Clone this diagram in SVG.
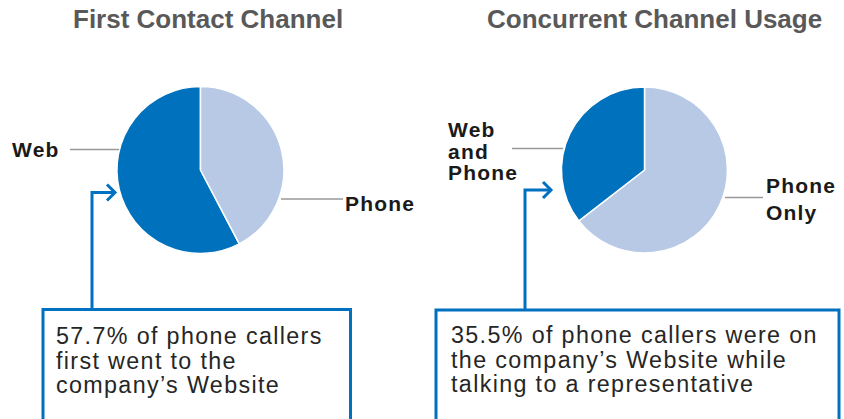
<svg xmlns="http://www.w3.org/2000/svg" width="844" height="419" viewBox="0 0 844 419">
<style>
.title{font-family:"Liberation Sans",Arial,sans-serif;font-weight:bold;font-size:26px;fill:#595959}
.lbl{font-family:"Liberation Sans",Arial,sans-serif;font-weight:bold;font-size:21px;letter-spacing:1.2px;fill:#1a1a1a}
.note{font-family:"Liberation Sans",Arial,sans-serif;font-size:23.3px;letter-spacing:1.35px;fill:#262626}
.dark{fill:#0071BC;stroke:#fff;stroke-width:1.5;stroke-linejoin:round}
.light{fill:#B8C9E6;stroke:#fff;stroke-width:1.5;stroke-linejoin:round}
.leader{stroke:#999;stroke-width:1.6;fill:none}
.conn{stroke:#0070C0;stroke-width:3;fill:none}
.box{fill:#fff;stroke:#0070C0;stroke-width:3}
</style>
<rect width="844" height="419" fill="#fff"/>
<g id="title1"><text class="title" x="73" y="28">First Contact Channel</text></g>
<g id="title2"><text class="title" x="487" y="28">Concurrent Channel Usage</text></g>
<g id="pie1">
<path class="dark" d="M200.5,170 L239.3,243.9 A83.5,83.5 0 1 1 200.5,86.5 Z"/>
<path class="light" d="M200.5,170 L200.5,86.5 A83.5,83.5 0 0 1 239.3,243.9 Z"/>
</g>
<g id="pie2">
<path class="light" d="M644.5,170 L644.5,87 A83,83 0 1 1 578.9,220.9 Z"/>
<path class="dark" d="M644.5,170 L578.9,220.9 A83,83 0 0 1 644.5,87 Z"/>
</g>
<g id="label-web"><text class="lbl" x="12" y="157">Web</text></g>
<g id="label-phone"><text class="lbl" x="345" y="211">Phone</text></g>
<g id="label-webphone"><text class="lbl" x="448" y="137">Web</text><text class="lbl" x="448" y="159">and</text><text class="lbl" x="448" y="180">Phone</text></g>
<g id="label-phoneonly"><text class="lbl" x="766" y="193">Phone</text><text class="lbl" x="766" y="220">Only</text></g>
<g id="connectors">
<line class="leader" x1="70" y1="149.5" x2="119" y2="149.5"/>
<line class="leader" x1="281" y1="199" x2="343" y2="199"/>
<line class="leader" x1="512" y1="148.5" x2="563" y2="148.5"/>
<line class="leader" x1="725" y1="197.5" x2="763" y2="197.5"/>
<polyline class="conn" points="92,310 92,192.5 114,192.5"/>
<polyline class="conn" points="107,184.5 115,192.5 107,200.5"/>
<polyline class="conn" points="525,311 525,190 550,190"/>
<polyline class="conn" points="543,182 551,190 543,198"/>
</g>
<g id="note1">
<rect class="box" x="43" y="309.5" width="307.5" height="125"/>
<text class="note" x="56" y="344">57.7% of phone callers</text>
<text class="note" x="56" y="368.5">first went to the</text>
<text class="note" x="56" y="393">company’s Website</text>
</g>
<g id="note2">
<rect class="box" x="436" y="310" width="403" height="125"/>
<text class="note" x="451" y="343">35.5% of phone callers were on</text>
<text class="note" x="451" y="367.5">the company’s Website while</text>
<text class="note" x="451" y="392">talking to a representative</text>
</g>
</svg>
